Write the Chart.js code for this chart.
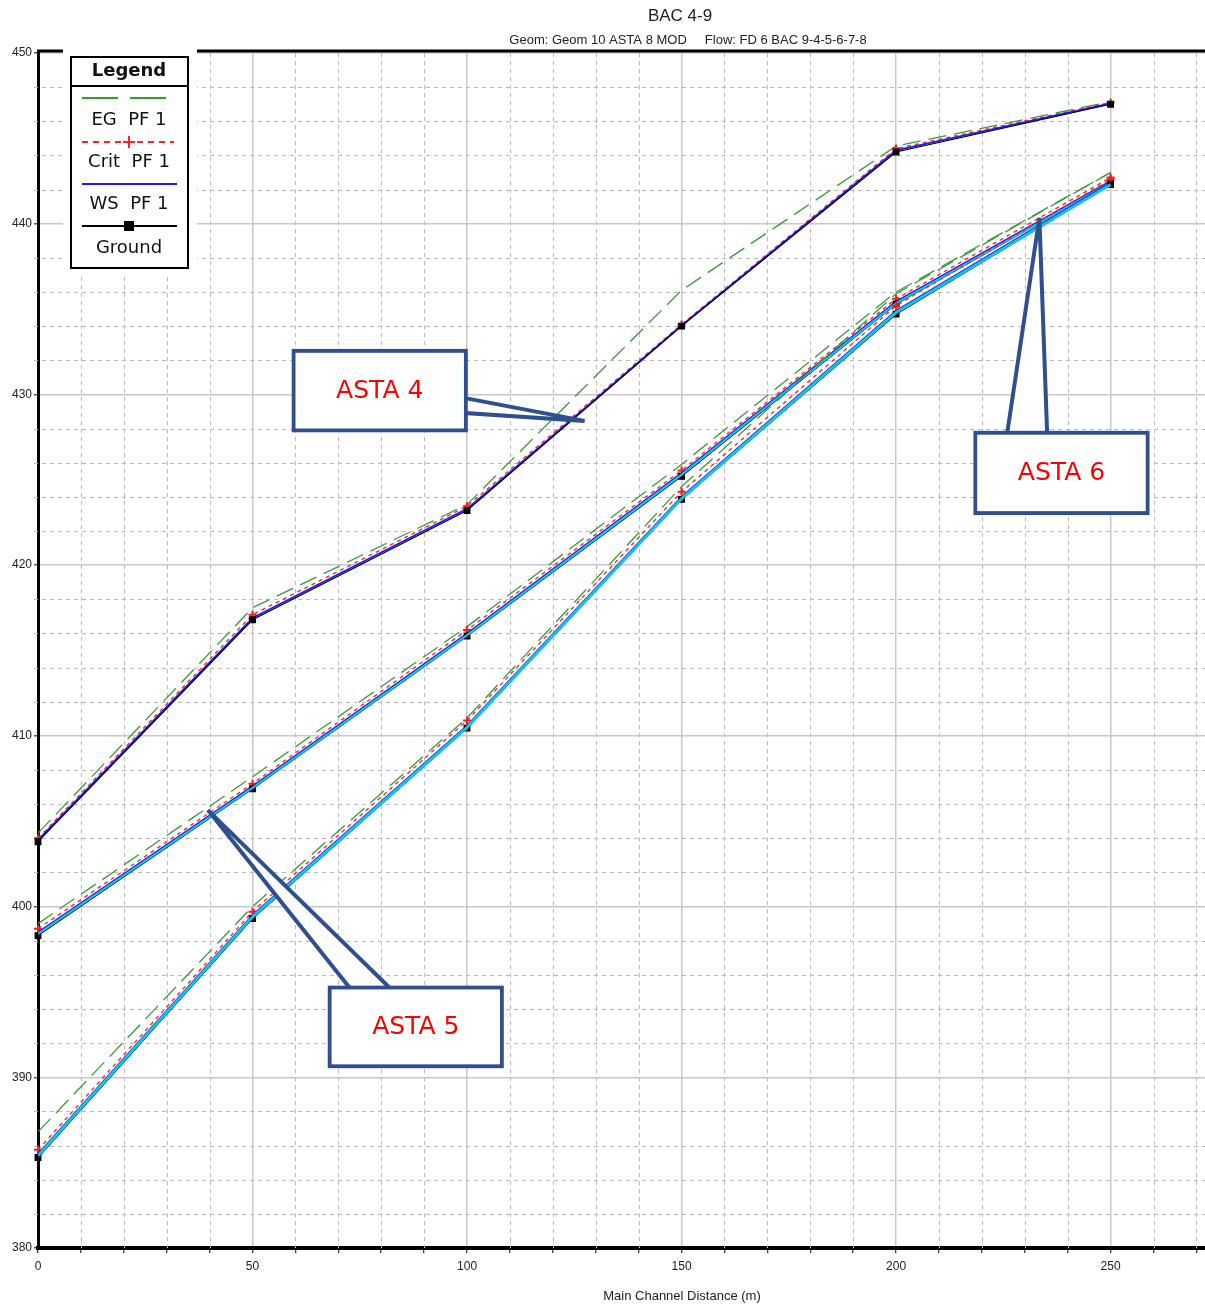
<!DOCTYPE html>
<html>
<head>
<meta charset="utf-8">
<title>BAC 4-9</title>
<script src="https://cdn.jsdelivr.net/npm/chart.js@4.4.1/dist/chart.umd.min.js"></script>
<style>
  body { margin: 0; background: #ffffff; overflow: hidden; }
  #grafico { display: block; }
</style>
</head>
<body>
<canvas id="grafico" width="1205" height="1305"></canvas>
<script>
// distancias ao longo do canal principal (m)
const distancias = [0, 50, 100, 150, 200, 250];

// ASTA 4 (linha de cima)
const asta4Ground = [403.8, 416.8, 423.2, 434.0, 444.2, 447.0];
const asta4WS = [403.9, 416.9, 423.3, 434.05, 444.3, 447.05];
const asta4Crit = [404.0, 417.1, 423.45, 434.1, 444.4, 447.1];
const asta4EG = [404.3, 417.5, 423.55, 436.1, 444.55, 447.15];

// ASTA 5 (linha do meio)
const asta5Ground = [398.3, 406.9, 415.85, 425.2, 435.3, 442.4];
const asta5WS = [398.5, 407.05, 416.0, 425.4, 435.45, 442.5];
const asta5Ciano = [398.4, 406.95, 415.9, 425.3, 435.35, 442.4];
const asta5Crit = [398.7, 407.2, 416.2, 425.55, 435.6, 442.7];
const asta5EG = [399.0, 407.6, 416.4, 425.9, 436.0, 443.0];

// ASTA 6 (linha de baixo)
const asta6Ground = [385.3, 399.3, 410.45, 423.85, 434.7, 442.3];
const asta6WS = [385.5, 399.5, 410.6, 424.0, 434.9, 442.4];
const asta6Ciano = [385.4, 399.4, 410.5, 423.9, 434.8, 442.3];
const asta6Crit = [385.75, 399.7, 410.9, 424.3, 435.2, 442.6];
const asta6EG = [386.8, 400.0, 411.05, 424.6, 435.9, 443.0];

// eixos
const rotulosX = [0, 50, 100, 150, 200, 250];
const rotulosY = [380, 390, 400, 410, 420, 430, 440, 450];

const titulo = "BAC 4-9";
const subtitulo = "Geom: Geom 10 ASTA 8 MOD     Flow: FD 6 BAC 9-4-5-6-7-8";
const tituloX = "Main Channel Distance (m)";

const itensLegenda = ["EG  PF 1", "Crit  PF 1", "WS  PF 1", "Ground"];

// caixas de texto com seta (em unidades do grafico)
const chamadas = [
  { texto: "ASTA 4", x1: 59.6, x2: 99.7, y1: 432.55, y2: 427.9,
    base: [[97.1, 429.9], [97.1, 428.95]], ponta: [127.4, 428.45] },
  { texto: "ASTA 5", x1: 68.0, x2: 108.1, y1: 395.25, y2: 390.65,
    base: [[75.0, 394.5], [85.0, 394.5]], ponta: [39.6, 405.65] },
  { texto: "ASTA 6", x1: 218.5, x2: 258.6, y1: 427.75, y2: 423.05,
    base: [[225.5, 427.05], [235.3, 427.05]], ponta: [233.4, 440.35] },
];

const fonteNarrow = "'Liberation Sans Narrow', 'Liberation Sans', Arial, sans-serif";
const fonteLegenda = "'DejaVu Sans', Verdana, sans-serif";

function pontos(valores) {
  return distancias.map((d, i) => ({ x: d, y: valores[i] }));
}

function serieEG(valores) {
  return {
    data: pontos(valores),
    borderColor: "#3a9a3a",
    borderWidth: 1.3,
    borderDash: [18, 8],
    pointRadius: 0,
    fill: false,
  };
}

function serieCrit(valores) {
  return {
    data: pontos(valores),
    borderColor: "#ff2a2a",
    borderWidth: 1.4,
    borderDash: [4, 4],
    pointStyle: "cross",
    pointRadius: 4,
    pointBorderWidth: 2,
    pointBorderColor: "#ff1a1a",
    clip: false,
  };
}

function serieWS(valores) {
  return {
    data: pontos(valores),
    borderColor: "#1a1aff",
    borderWidth: 1.7,
    pointRadius: 0,
  };
}

function serieCiano(valores, largura) {
  return {
    data: pontos(valores),
    borderColor: "#12c4e0",
    borderWidth: largura,
    pointRadius: 0,
  };
}

function serieGround(valores) {
  return {
    data: pontos(valores),
    borderColor: "#000000",
    borderWidth: 1.2,
    pointStyle: "rect",
    pointRadius: 4,
    pointBackgroundColor: "#000000",
    pointBorderColor: "#000000",
    clip: false,
  };
}

const datasets = [
  serieCiano(asta6Ciano, 3),
  serieGround(asta6Ground),
  serieWS(asta6WS),
  serieCrit(asta6Crit),
  serieEG(asta6EG),
  serieCiano(asta5Ciano, 2.2),
  serieGround(asta5Ground),
  serieWS(asta5WS),
  serieCrit(asta5Crit),
  serieEG(asta5EG),
  serieGround(asta4Ground),
  serieWS(asta4WS),
  serieCrit(asta4Crit),
  serieEG(asta4EG),
];

// linhas tracejadas secundarias da grade
const gradeSecundaria = {
  id: "gradeSecundaria",
  beforeDatasetsDraw(chart) {
    const { ctx, chartArea, scales } = chart;
    ctx.save();
    ctx.strokeStyle = "#b9b9b9";
    ctx.lineWidth = 1;
    ctx.setLineDash([4, 4]);
    for (const t of scales.x.ticks) {
      if (rotulosX.includes(t.value)) continue;
      const px = Math.round(scales.x.getPixelForValue(t.value)) + 0.5;
      ctx.beginPath();
      ctx.moveTo(px, chartArea.top);
      ctx.lineTo(px, chartArea.bottom);
      ctx.stroke();
    }
    for (const t of scales.y.ticks) {
      if (rotulosY.includes(t.value)) continue;
      const py = Math.round(scales.y.getPixelForValue(t.value)) + 0.5;
      ctx.beginPath();
      ctx.moveTo(chartArea.left - 4, py);
      ctx.lineTo(chartArea.right, py);
      ctx.stroke();
    }
    ctx.restore();
  },
};

function desenharChamada(ctx, sx, sy, c) {
  const cor = "#2f4f8f";
  ctx.lineWidth = 4;
  ctx.strokeStyle = cor;
  ctx.lineJoin = "miter";

  ctx.beginPath();
  ctx.moveTo(sx(c.base[0][0]), sy(c.base[0][1]));
  ctx.lineTo(sx(c.ponta[0]), sy(c.ponta[1]));
  ctx.lineTo(sx(c.base[1][0]), sy(c.base[1][1]));
  ctx.closePath();
  ctx.fillStyle = "#ffffff";
  ctx.fill();
  ctx.stroke();

  const x1 = sx(c.x1), x2 = sx(c.x2), y1 = sy(c.y1), y2 = sy(c.y2);
  ctx.fillStyle = "#ffffff";
  ctx.fillRect(x1, y1, x2 - x1, y2 - y1);
  ctx.strokeRect(x1, y1, x2 - x1, y2 - y1);

  // cobre a base da seta dentro da caixa
  ctx.fillRect(x1 + 2, y1 + 2, x2 - x1 - 4, y2 - y1 - 4);

  ctx.fillStyle = "#ff0000";
  ctx.font = "25px " + fonteLegenda;
  ctx.textAlign = "center";
  ctx.textBaseline = "middle";
  ctx.fillText(c.texto, (x1 + x2) / 2, (y1 + y2) / 2 + 1);
}

function desenharLegenda(ctx) {
  ctx.fillStyle = "#ffffff";
  ctx.fillRect(63, 44, 134, 232);
  ctx.strokeStyle = "#000000";
  ctx.lineWidth = 2;
  ctx.setLineDash([]);
  ctx.strokeRect(71, 57, 117, 211);
  ctx.beginPath();
  ctx.moveTo(71, 86);
  ctx.lineTo(188, 86);
  ctx.stroke();

  ctx.fillStyle = "#111111";
  ctx.textAlign = "center";
  ctx.textBaseline = "middle";
  ctx.font = "bold 18px " + fonteLegenda;
  ctx.fillText("Legend", 129, 71);

  // EG
  ctx.strokeStyle = "#2ea02e";
  ctx.lineWidth = 2;
  ctx.setLineDash([36, 12]);
  ctx.beginPath();
  ctx.moveTo(82, 98);
  ctx.lineTo(168, 98);
  ctx.stroke();

  // Crit
  ctx.strokeStyle = "#ff2020";
  ctx.setLineDash([6, 5]);
  ctx.beginPath();
  ctx.moveTo(82, 142);
  ctx.lineTo(174, 142);
  ctx.stroke();
  ctx.setLineDash([]);
  ctx.beginPath();
  ctx.moveTo(123, 142);
  ctx.lineTo(135, 142);
  ctx.moveTo(129, 136);
  ctx.lineTo(129, 148);
  ctx.stroke();

  // WS
  ctx.strokeStyle = "#1a1aff";
  ctx.beginPath();
  ctx.moveTo(82, 184);
  ctx.lineTo(177, 184);
  ctx.stroke();

  // Ground
  ctx.strokeStyle = "#000000";
  ctx.beginPath();
  ctx.moveTo(82, 226);
  ctx.lineTo(177, 226);
  ctx.stroke();
  ctx.fillStyle = "#000000";
  ctx.fillRect(124, 221, 10, 10);

  ctx.fillStyle = "#111111";
  ctx.font = "18px " + fonteLegenda;
  const ys = [120, 162, 204, 248];
  itensLegenda.forEach((txt, i) => ctx.fillText(txt, 129, ys[i]));
}

const extras = {
  id: "extras",
  afterDraw(chart) {
    const { ctx, chartArea, scales } = chart;
    const sx = (v) => scales.x.getPixelForValue(v);
    const sy = (v) => scales.y.getPixelForValue(v);
    ctx.save();

    // borda superior
    ctx.strokeStyle = "#000000";
    ctx.lineWidth = 3;
    ctx.beginPath();
    ctx.moveTo(chartArea.left - 1, chartArea.top - 2);
    ctx.lineTo(chartArea.right, chartArea.top - 2);
    ctx.stroke();

    // titulos
    ctx.fillStyle = "#222222";
    ctx.textAlign = "center";
    ctx.textBaseline = "middle";
    ctx.font = "17px " + fonteNarrow;
    ctx.fillText(titulo, 680, 16);
    ctx.font = "13px " + fonteNarrow;
    ctx.fillText(subtitulo, 688, 40);
    ctx.fillText(tituloX, 682, 1296);

    for (const c of chamadas) desenharChamada(ctx, sx, sy, c);
    desenharLegenda(ctx);
    ctx.restore();
  },
};

function zerarPadding(scale) {
  scale.paddingLeft = 0;
  scale.paddingRight = 0;
  scale.paddingTop = 0;
  scale.paddingBottom = 0;
}

const config = {
  type: "line",
  data: { datasets: datasets },
  options: {
    responsive: false,
    animation: false,
    layout: { autoPadding: false, padding: { top: 53, right: 0, left: 0, bottom: 0 } },
    scales: {
      x: {
        type: "linear",
        min: 0,
        max: 272,
        afterFit: (scale) => { scale.height = 57; zerarPadding(scale); },
        border: { color: "#000000", width: 4 },
        grid: {
          color: (c) => (c.tick && rotulosX.includes(c.tick.value) ? "#c8c8c8" : "rgba(0,0,0,0)"),
          lineWidth: 1.5,
          tickColor: "#000000",
          tickLength: 5,
          tickWidth: 1,
        },
        ticks: {
          stepSize: 10,
          includeBounds: false,
          autoSkip: false,
          maxRotation: 0,
          padding: 6,
          color: "#222222",
          font: { family: fonteNarrow, size: 12 },
          callback: (v) => (rotulosX.includes(v) ? String(v) : ""),
        },
      },
      y: {
        type: "linear",
        min: 380,
        max: 450,
        afterFit: (scale) => { scale.width = 38; zerarPadding(scale); },
        border: { color: "#000000", width: 3 },
        grid: {
          color: (c) => (c.tick && rotulosY.includes(c.tick.value) ? "#c8c8c8" : "rgba(0,0,0,0)"),
          lineWidth: 1.5,
          tickColor: (c) => (c.tick && rotulosY.includes(c.tick.value) ? "#555555" : "rgba(0,0,0,0)"),
          tickLength: 4,
        },
        ticks: {
          stepSize: 2,
          autoSkip: false,
          padding: 2,
          color: "#222222",
          font: { family: fonteNarrow, size: 12 },
          callback: (v) => (rotulosY.includes(v) ? String(v) : ""),
        },
      },
    },
    plugins: {
      legend: { display: false },
      tooltip: { enabled: false },
      title: { display: false },
    },
  },
  plugins: [gradeSecundaria, extras],
};

new Chart(document.getElementById("grafico"), config);
</script>
</body>
</html>
